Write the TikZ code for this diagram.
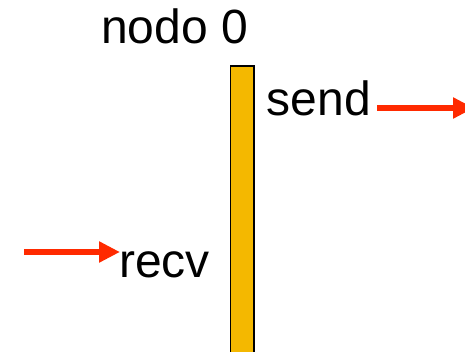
\documentclass[tikz,border=0pt]{standalone}
\usepackage{fontspec}
\setmainfont{Liberation Sans}
\usetikzlibrary{arrows.meta}
\definecolor{barorange}{HTML}{F4B800}
\definecolor{arrowred}{HTML}{FF2A00}
\begin{document}
\begin{tikzpicture}[x=1pt,y=-1pt,
  lbl/.style={font=\fontsize{48}{57}\selectfont, inner sep=0pt, anchor=base west},
  msg/.style={draw=arrowred, line width=6pt, -{Triangle[length=21pt 0 0,width=20pt 0 0,fill=arrowred]}},
  procbar/.style={draw=black, line width=1.5pt, fill=barorange}]
\useasboundingbox (0,0) rectangle (465,351);
\clip (0,0) rectangle (465,351);
\node[lbl] (title) at (101,43) {nodo 0};
\draw[procbar] (230.5,66) rectangle (254,360);
\coordinate (bar) at (242,66);
\node[lbl] (send) at (266.5,115) {send};
\coordinate (sendend) at (474,108);
\draw[msg] (377,108) -- (sendend);
\node[lbl] (recv) at (119,277) {recv};
\coordinate (recvstart) at (24,252);
\draw[msg] (recvstart) -- (120,252);
\end{tikzpicture}
\end{document}
